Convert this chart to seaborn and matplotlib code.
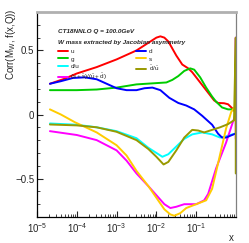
import numpy as np
import pandas as pd
import matplotlib
matplotlib.use("Agg")
import matplotlib.pyplot as plt
import seaborn as sns
from matplotlib.ticker import LogLocator, MultipleLocator, FixedLocator, NullFormatter

sns.set_style("ticks")
plt.rcParams['font.family'] = ['Liberation Sans', 'DejaVu Sans']
plt.rcParams['mathtext.fontset'] = 'custom'
plt.rcParams['mathtext.rm'] = 'Liberation Sans'
plt.rcParams['mathtext.it'] = 'Liberation Sans:italic'

# ---- data (log10 x, correlation) ----
u_logx = [-4.675, -4.3, -4.0, -3.5, -3.0, -2.5, -2.2, -2.0, -1.9, -1.8, -1.7, -1.5, -1.35, -1.2, -1.1, -1.0, -0.75, -0.55, -0.45, -0.3, -0.2, -0.1, -0.02]
u_corr = [0.24, 0.28, 0.32, 0.37, 0.43, 0.50, 0.56, 0.60, 0.61, 0.60, 0.57, 0.46, 0.39, 0.36, 0.33, 0.29, 0.19, 0.11, 0.09, 0.088, 0.08, 0.05, 0.02]

g_logx = [-4.675, -4.0, -3.5, -3.0, -2.5, -2.0, -1.75, -1.6, -1.45, -1.3, -1.15, -1.05, -0.9, -0.75, -0.6, -0.5, -0.35, -0.2, -0.08, -0.02]
g_corr = [0.19, 0.19, 0.195, 0.21, 0.235, 0.245, 0.25, 0.27, 0.30, 0.34, 0.36, 0.35, 0.29, 0.21, 0.14, 0.10, 0.055, 0.04, 0.04, 0.03]

d_logx = [-4.675, -4.4, -4.1, -3.8, -3.5, -3.25, -3.0, -2.75, -2.5, -2.3, -2.1, -1.9, -1.675, -1.45, -1.25, -1.05, -0.85, -0.6, -0.45, -0.35, -0.25, -0.1, -0.02]
d_corr = [0.24, 0.26, 0.285, 0.29, 0.275, 0.24, 0.205, 0.19, 0.19, 0.205, 0.21, 0.19, 0.13, 0.09, 0.07, 0.04, -0.01, -0.08, -0.15, -0.18, -0.18, -0.16, -0.15]

s_logx = [-4.675, -4.4, -4.05, -3.5, -3.0, -2.75, -2.5, -2.2, -2.0, -1.8, -1.65, -1.55, -1.4, -1.25, -1.0, -0.75, -0.6, -0.45, -0.25, -0.12, -0.03]
s_corr = [0.04, 0.0, -0.06, -0.14, -0.24, -0.32, -0.44, -0.56, -0.65, -0.74, -0.78, -0.79, -0.77, -0.73, -0.70, -0.67, -0.58, -0.38, -0.11, 0.02, 0.06]

du_logx = [-4.675, -4.0, -3.5, -3.0, -2.5, -2.2, -2.0, -1.85, -1.7, -1.5, -1.3, -1.1, -0.85, -0.6, -0.4, -0.3, -0.15, -0.02]
du_corr = [-0.07, -0.08, -0.10, -0.13, -0.185, -0.26, -0.30, -0.33, -0.31, -0.25, -0.19, -0.155, -0.14, -0.155, -0.18, -0.175, -0.16, -0.15]

dbub_logx = [-4.675, -4.0, -3.5, -3.0, -2.5, -2.2, -2.0, -1.82, -1.7, -1.5, -1.3, -1.1, -0.95, -0.8, -0.6, -0.4, -0.2, -0.05, -0.006, -0.006]
dbub_corr = [-0.078, -0.085, -0.10, -0.135, -0.20, -0.27, -0.33, -0.39, -0.37, -0.28, -0.18, -0.12, -0.125, -0.14, -0.12, -0.10, -0.075, -0.045, 0.60, -0.46]

sr_logx = [-4.675, -4.0, -3.5, -3.0, -2.75, -2.5, -2.2, -2.0, -1.8, -1.65, -1.5, -1.3, -1.0, -0.8, -0.7, -0.5, -0.25, -0.08, -0.01, -0.006, -0.006]
sr_corr = [-0.13, -0.16, -0.20, -0.28, -0.36, -0.46, -0.56, -0.63, -0.70, -0.73, -0.72, -0.70, -0.70, -0.67, -0.62, -0.42, -0.22, -0.06, 0.0, 0.60, -0.19]

series = [
    ("u", u_logx, u_corr, "#ff0000"),
    ("g", g_logx, g_corr, "#00cc00"),
    ("d/u", du_logx, du_corr, "#00ffff"),
    (r"$\mathrm{(s+\bar{s})/(\bar{u}+\bar{d})}$", sr_logx, sr_corr, "#ff00ff"),
    ("d", d_logx, d_corr, "#0000ff"),
    ("s", s_logx, s_corr, "#ffcc00"),
    (r"$\mathrm{\bar{d}/\bar{u}}$", dbub_logx, dbub_corr, "#999900"),
]

fig = plt.figure(figsize=(2.49, 2.43), dpi=100)
ax = fig.add_axes([37/249, 1-217/243, (236-37)/249, (217-12)/243])

for name, lx, cy, col in series:
    df = pd.DataFrame({"x": np.power(10.0, lx), "y": cy})
    sns.lineplot(data=df, x="x", y="y", sort=False, estimator=None,
                 color=col, lw=1.4, label=name, ax=ax)

ax.set_xscale("log")
ax.set_xlim(1e-5, 1)
ax.set_ylim(-0.8, 0.8)

ax.xaxis.set_major_locator(FixedLocator([1e-5, 1e-4, 1e-3, 1e-2, 1e-1]))
ax.xaxis.set_minor_locator(LogLocator(base=10, subs=np.arange(2, 10), numticks=20))
ax.xaxis.set_minor_formatter(NullFormatter())
ax.yaxis.set_major_locator(FixedLocator([-0.5, 0, 0.5]))
ax.yaxis.set_minor_locator(MultipleLocator(0.1))
ax.set_yticklabels(["\u22120.5", "0", "0.5"])

ax.tick_params(which="both", direction="in", labelsize=7, pad=2)
ax.tick_params(which="major", length=4, width=0.8)
ax.tick_params(which="minor", length=2, width=0.6)
ax.tick_params(axis="x", which="major", pad=3)

for side in ["left", "bottom"]:
    ax.spines[side].set_color("black")
    ax.spines[side].set_linewidth(0.9)
ax.spines["top"].set_color("#b0b0b0")
ax.spines["top"].set_linewidth(2)
ax.spines["right"].set_color("#808080")
ax.spines["right"].set_linewidth(0.9)

ax.set_xlabel("x", fontsize=7, loc="right")
ax.set_ylabel(r"Corr(M$_\mathrm{W}$, f(x,Q))", fontsize=7, loc="top")
ax.yaxis.set_label_coords(-0.095, 1.02)
ax.xaxis.set_label_coords(0.99, -0.08)

fig.text(58/249, 1-33/243, "CT18NNLO Q = 100.0GeV", fontsize=4.6,
         fontweight="bold", fontstyle="italic", va="baseline")
fig.text(58/249, 1-44/243, "W mass extracted by Jacobian asymmetry", fontsize=4.6,
         fontweight="bold", fontstyle="italic", va="baseline")

leg = ax.legend(ncol=2, fontsize=4.6, frameon=False, loc="upper left",
                bbox_to_anchor=((55-37)/199, (217-46)/205),
                handlelength=1.6, handletextpad=0.4, columnspacing=4.5,
                labelspacing=0.35, borderaxespad=0)

fig.savefig("out.png", dpi=100)
